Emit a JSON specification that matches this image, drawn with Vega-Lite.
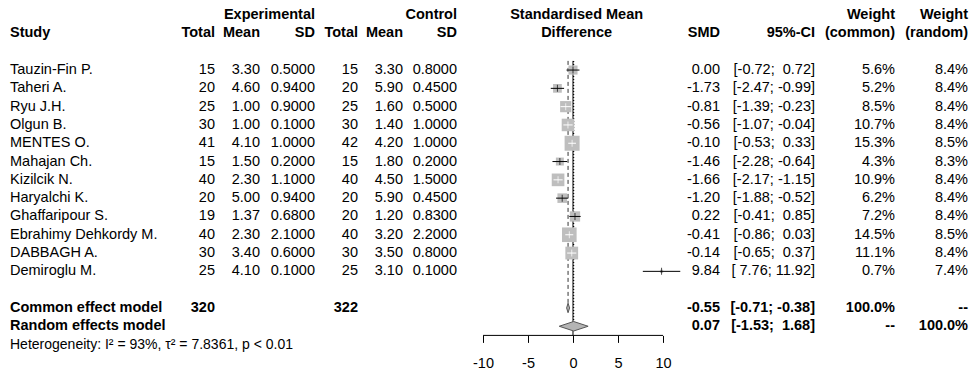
{
  "$schema": "https://vega.github.io/schema/vega-lite/v6.json",
  "padding": {"left": 10, "top": 6, "right": 5, "bottom": 0},
  "bounds": "flush",
  "spacing": 0,
  "config": {
    "view": {"stroke": null},
    "locale": {"number": {"decimal": ".", "thousands": ",", "grouping": [3], "currency": ["$", ""], "minus": "-"}},
    "text": {"font": "Liberation Sans", "fontSize": 14.5, "baseline": "middle", "color": "black"}
  },
  "datasets": {
    "studies": [
      {"study": "Tauzin-Fin P.", "row": 1, "te": 15, "me": 3.30, "sde": 0.50, "tc": 15, "mc": 3.30, "sdc": 0.80, "smd": 0.00, "lo": -0.72, "hi": 0.72, "ci": "[-0.72; \u00a00.72]", "wc": 5.6, "wr": 8.4},
      {"study": "Taheri A.", "row": 2, "te": 20, "me": 4.60, "sde": 0.94, "tc": 20, "mc": 5.90, "sdc": 0.45, "smd": -1.73, "lo": -2.47, "hi": -0.99, "ci": "[-2.47; -0.99]", "wc": 5.2, "wr": 8.4},
      {"study": "Ryu J.H.", "row": 3, "te": 25, "me": 1.00, "sde": 0.90, "tc": 25, "mc": 1.60, "sdc": 0.50, "smd": -0.81, "lo": -1.39, "hi": -0.23, "ci": "[-1.39; -0.23]", "wc": 8.5, "wr": 8.4},
      {"study": "Olgun B.", "row": 4, "te": 30, "me": 1.00, "sde": 0.10, "tc": 30, "mc": 1.40, "sdc": 1.00, "smd": -0.56, "lo": -1.07, "hi": -0.04, "ci": "[-1.07; -0.04]", "wc": 10.7, "wr": 8.4},
      {"study": "MENTES O.", "row": 5, "te": 41, "me": 4.10, "sde": 1.00, "tc": 42, "mc": 4.20, "sdc": 1.00, "smd": -0.10, "lo": -0.53, "hi": 0.33, "ci": "[-0.53; \u00a00.33]", "wc": 15.3, "wr": 8.5},
      {"study": "Mahajan Ch.", "row": 6, "te": 15, "me": 1.50, "sde": 0.20, "tc": 15, "mc": 1.80, "sdc": 0.20, "smd": -1.46, "lo": -2.28, "hi": -0.64, "ci": "[-2.28; -0.64]", "wc": 4.3, "wr": 8.3},
      {"study": "Kizilcik N.", "row": 7, "te": 40, "me": 2.30, "sde": 1.10, "tc": 40, "mc": 4.50, "sdc": 1.50, "smd": -1.66, "lo": -2.17, "hi": -1.15, "ci": "[-2.17; -1.15]", "wc": 10.9, "wr": 8.4},
      {"study": "Haryalchi K.", "row": 8, "te": 20, "me": 5.00, "sde": 0.94, "tc": 20, "mc": 5.90, "sdc": 0.45, "smd": -1.20, "lo": -1.88, "hi": -0.52, "ci": "[-1.88; -0.52]", "wc": 6.2, "wr": 8.4},
      {"study": "Ghaffaripour S.", "row": 9, "te": 19, "me": 1.37, "sde": 0.68, "tc": 20, "mc": 1.20, "sdc": 0.83, "smd": 0.22, "lo": -0.41, "hi": 0.85, "ci": "[-0.41; \u00a00.85]", "wc": 7.2, "wr": 8.4},
      {"study": "Ebrahimy Dehkordy M.", "row": 10, "te": 40, "me": 2.30, "sde": 2.10, "tc": 40, "mc": 3.20, "sdc": 2.20, "smd": -0.41, "lo": -0.86, "hi": 0.03, "ci": "[-0.86; \u00a00.03]", "wc": 14.5, "wr": 8.5},
      {"study": "DABBAGH A.", "row": 11, "te": 30, "me": 3.40, "sde": 0.60, "tc": 30, "mc": 3.50, "sdc": 0.80, "smd": -0.14, "lo": -0.65, "hi": 0.37, "ci": "[-0.65; \u00a00.37]", "wc": 11.1, "wr": 8.4},
      {"study": "Demiroglu M.", "row": 12, "te": 25, "me": 4.10, "sde": 0.10, "tc": 25, "mc": 3.10, "sdc": 0.10, "smd": 9.84, "lo": 7.76, "hi": 11.92, "ci": "[ 7.76; 11.92]", "wc": 0.7, "wr": 7.4}
    ],
    "pooled": [
      {"model": "Common effect model", "row": 14, "n_e": 320, "n_c": 322, "est": -0.55, "lo": -0.71, "hi": -0.38, "ci": "[-0.71; -0.38]", "wcl": "100.0%", "wrl": "--"},
      {"model": "Random effects model", "row": 15, "est": 0.07, "lo": -1.53, "hi": 1.68, "ci": "[-1.53; \u00a01.68]", "wcl": "--", "wrl": "100.0%"}
    ],
    "headers": [
      {"col": "study", "row": -1, "label": "Study"},
      {"col": "eTotal", "row": -1, "label": "Total"},
      {"col": "eMean", "row": -1, "label": "Mean"},
      {"col": "eSD", "row": -2, "label": "Experimental"},
      {"col": "eSD", "row": -1, "label": "SD"},
      {"col": "cTotal", "row": -1, "label": "Total"},
      {"col": "cMean", "row": -1, "label": "Mean"},
      {"col": "cSD", "row": -2, "label": "Control"},
      {"col": "cSD", "row": -1, "label": "SD"},
      {"col": "forest", "row": -2, "label": "Standardised Mean"},
      {"col": "forest", "row": -1, "label": "Difference"},
      {"col": "smd", "row": -1, "label": "SMD"},
      {"col": "ci", "row": -1, "label": "95%-CI"},
      {"col": "wc", "row": -2, "label": "Weight"},
      {"col": "wc", "row": -1, "label": "(common)"},
      {"col": "wr", "row": -2, "label": "Weight"},
      {"col": "wr", "row": -1, "label": "(random)"}
    ],
    "notes": [
      {"row": 16, "label": "Heterogeneity: I² = 93%, τ² = 7.8361, p < 0.01"}
    ]
  },
  "hconcat": [
    {
      "width": 160, "height": 347.7,
      "layer": [
        {"data": {"name": "headers"}, "transform": [{"filter": "datum.col === 'study'"}],
         "mark": {"type": "text", "align": "left", "fontWeight": "bold"},
         "encoding": {"x": {"value": 0}, "y": {"field": "row", "type": "quantitative", "scale": {"domain": [-2.5, 16.5], "reverse": true, "nice": false, "zero": false}, "axis": null}, "text": {"field": "label"}}},
        {"data": {"name": "studies"},
         "mark": {"type": "text", "align": "left"},
         "encoding": {"x": {"value": 0}, "y": {"field": "row", "type": "quantitative", "axis": null}, "text": {"field": "study"}}},
        {"data": {"name": "pooled"},
         "mark": {"type": "text", "align": "left", "fontWeight": "bold"},
         "encoding": {"x": {"value": 0}, "y": {"field": "row", "type": "quantitative", "axis": null}, "text": {"field": "model"}}},
        {"data": {"name": "notes"},
         "mark": {"type": "text", "align": "left", "fontSize": 14},
         "encoding": {"x": {"value": 0}, "y": {"field": "row", "type": "quantitative", "axis": null}, "text": {"field": "label"}}}
      ]
    },
    {
      "width": 45, "height": 347.7,
      "layer": [
        {"data": {"name": "headers"}, "transform": [{"filter": "datum.col === 'eTotal'"}],
         "mark": {"type": "text", "align": "right", "fontWeight": "bold"},
         "encoding": {"x": {"value": "width"}, "y": {"field": "row", "type": "quantitative", "scale": {"domain": [-2.5, 16.5], "reverse": true, "nice": false, "zero": false}, "axis": null}, "text": {"field": "label"}}},
        {"data": {"name": "studies"},
         "mark": {"type": "text", "align": "right"},
         "encoding": {"x": {"value": "width"}, "y": {"field": "row", "type": "quantitative", "axis": null}, "text": {"field": "te"}}},
        {"data": {"name": "pooled"}, "transform": [{"filter": "isValid(datum.n_e)"}],
         "mark": {"type": "text", "align": "right", "fontWeight": "bold"},
         "encoding": {"x": {"value": "width"}, "y": {"field": "row", "type": "quantitative", "axis": null}, "text": {"field": "n_e"}}}
      ]
    },
    {
      "width": 45, "height": 347.7,
      "layer": [
        {"data": {"name": "headers"}, "transform": [{"filter": "datum.col === 'eMean'"}],
         "mark": {"type": "text", "align": "right", "fontWeight": "bold"},
         "encoding": {"x": {"value": "width"}, "y": {"field": "row", "type": "quantitative", "scale": {"domain": [-2.5, 16.5], "reverse": true, "nice": false, "zero": false}, "axis": null}, "text": {"field": "label"}}},
        {"data": {"name": "studies"},
         "mark": {"type": "text", "align": "right"},
         "encoding": {"x": {"value": "width"}, "y": {"field": "row", "type": "quantitative", "axis": null}, "text": {"field": "me", "type": "quantitative", "format": ".2f"}}}
      ]
    },
    {
      "width": 55, "height": 347.7,
      "layer": [
        {"data": {"name": "headers"}, "transform": [{"filter": "datum.col === 'eSD'"}],
         "mark": {"type": "text", "align": "right", "fontWeight": "bold"},
         "encoding": {"x": {"value": "width"}, "y": {"field": "row", "type": "quantitative", "scale": {"domain": [-2.5, 16.5], "reverse": true, "nice": false, "zero": false}, "axis": null}, "text": {"field": "label"}}},
        {"data": {"name": "studies"},
         "mark": {"type": "text", "align": "right"},
         "encoding": {"x": {"value": "width"}, "y": {"field": "row", "type": "quantitative", "axis": null}, "text": {"field": "sde", "type": "quantitative", "format": ".4f"}}}
      ]
    },
    {
      "width": 43, "height": 347.7,
      "layer": [
        {"data": {"name": "headers"}, "transform": [{"filter": "datum.col === 'cTotal'"}],
         "mark": {"type": "text", "align": "right", "fontWeight": "bold"},
         "encoding": {"x": {"value": "width"}, "y": {"field": "row", "type": "quantitative", "scale": {"domain": [-2.5, 16.5], "reverse": true, "nice": false, "zero": false}, "axis": null}, "text": {"field": "label"}}},
        {"data": {"name": "studies"},
         "mark": {"type": "text", "align": "right"},
         "encoding": {"x": {"value": "width"}, "y": {"field": "row", "type": "quantitative", "axis": null}, "text": {"field": "tc"}}},
        {"data": {"name": "pooled"}, "transform": [{"filter": "isValid(datum.n_c)"}],
         "mark": {"type": "text", "align": "right", "fontWeight": "bold"},
         "encoding": {"x": {"value": "width"}, "y": {"field": "row", "type": "quantitative", "axis": null}, "text": {"field": "n_c"}}}
      ]
    },
    {
      "width": 45, "height": 347.7,
      "layer": [
        {"data": {"name": "headers"}, "transform": [{"filter": "datum.col === 'cMean'"}],
         "mark": {"type": "text", "align": "right", "fontWeight": "bold"},
         "encoding": {"x": {"value": "width"}, "y": {"field": "row", "type": "quantitative", "scale": {"domain": [-2.5, 16.5], "reverse": true, "nice": false, "zero": false}, "axis": null}, "text": {"field": "label"}}},
        {"data": {"name": "studies"},
         "mark": {"type": "text", "align": "right"},
         "encoding": {"x": {"value": "width"}, "y": {"field": "row", "type": "quantitative", "axis": null}, "text": {"field": "mc", "type": "quantitative", "format": ".2f"}}}
      ]
    },
    {
      "width": 54, "height": 347.7,
      "layer": [
        {"data": {"name": "headers"}, "transform": [{"filter": "datum.col === 'cSD'"}],
         "mark": {"type": "text", "align": "right", "fontWeight": "bold"},
         "encoding": {"x": {"value": "width"}, "y": {"field": "row", "type": "quantitative", "scale": {"domain": [-2.5, 16.5], "reverse": true, "nice": false, "zero": false}, "axis": null}, "text": {"field": "label"}}},
        {"data": {"name": "studies"},
         "mark": {"type": "text", "align": "right"},
         "encoding": {"x": {"value": "width"}, "y": {"field": "row", "type": "quantitative", "axis": null}, "text": {"field": "sdc", "type": "quantitative", "format": ".4f"}}}
      ]
    },
    {
      "width": 223, "height": 329.4,
      "layer": [
        {"data": {"name": "headers"}, "transform": [{"filter": "datum.col === 'forest'"}],
         "mark": {"type": "text", "align": "center", "fontWeight": "bold"},
         "encoding": {
           "x": {"datum": 0.4, "type": "quantitative",
                 "scale": {"domain": [-12.889, 11.889], "nice": false, "zero": false},
                 "axis": {"values": [-10, -5, 0, 5, 10], "format": "d", "domain": false, "grid": false, "ticks": true, "tickSize": 7, "tickColor": "black", "tickWidth": 1, "labelFont": "Liberation Sans", "labelFontSize": 14.5, "labelColor": "black", "labelPadding": 14, "labelFlush": false, "labelOverlap": false, "title": null}},
           "y": {"field": "row", "type": "quantitative", "scale": {"domain": [-2.5, 15.5], "reverse": true, "nice": false, "zero": false}, "axis": null},
           "text": {"field": "label"}}},
        {"data": {"values": [{}]},
         "mark": {"type": "rule", "color": "black", "strokeWidth": 1},
         "encoding": {"x": {"datum": 0, "type": "quantitative"}, "y": {"datum": 0.5, "type": "quantitative"}, "y2": {"datum": 15.5}}},
        {"data": {"name": "pooled"}, "transform": [{"filter": "datum.row === 14"}],
         "mark": {"type": "rule", "color": "#333333", "strokeWidth": 1, "strokeDash": [4, 3]},
         "encoding": {"x": {"field": "est", "type": "quantitative"}, "y": {"datum": 0.5, "type": "quantitative"}, "y2": {"datum": 13.75}}},
        {"data": {"name": "pooled"}, "transform": [{"filter": "datum.row === 15"}],
         "mark": {"type": "rule", "color": "black", "strokeWidth": 1.2, "strokeDash": [1, 2]},
         "encoding": {"x": {"field": "est", "type": "quantitative"}, "y": {"datum": 0.5, "type": "quantitative"}, "y2": {"datum": 14.75}}},
        {"data": {"name": "studies"},
         "mark": {"type": "point", "shape": "square", "filled": true, "color": "#bebebe", "opacity": 1},
         "encoding": {"x": {"field": "smd", "type": "quantitative"}, "y": {"field": "row", "type": "quantitative"},
                      "size": {"field": "wc", "type": "quantitative", "scale": {"type": "linear", "domain": [0, 15.3], "range": [0, 225], "zero": true}, "legend": null}}},
        {"data": {"name": "studies"},
         "mark": {"type": "rule", "strokeWidth": 1},
         "encoding": {"x": {"field": "lo", "type": "quantitative"}, "x2": {"field": "hi"}, "y": {"field": "row", "type": "quantitative"},
                      "color": {"condition": {"test": "(datum.hi - datum.lo) * 9 < 15 * sqrt(datum.wc / 15.3)", "value": "white"}, "value": "black"}}},
        {"data": {"name": "studies"},
         "mark": {"type": "tick", "orient": "vertical", "size": 7, "thickness": 1},
         "encoding": {"x": {"field": "smd", "type": "quantitative"}, "y": {"field": "row", "type": "quantitative"},
                      "color": {"condition": {"test": "(datum.hi - datum.lo) * 9 < 15 * sqrt(datum.wc / 15.3)", "value": "white"}, "value": "black"}}},
        {"data": {"name": "pooled"},
         "transform": [
           {"fold": ["lo", "est", "hi"], "as": ["k", "xv"]},
           {"calculate": "datum.row - (datum.k === 'est' ? 0.26 : 0)", "as": "ytop"},
           {"calculate": "datum.row + (datum.k === 'est' ? 0.26 : 0)", "as": "ybot"}
         ],
         "mark": {"type": "area", "orient": "vertical", "fill": "#b4b4b4", "stroke": "#555555", "strokeWidth": 1, "opacity": 1},
         "encoding": {"x": {"field": "xv", "type": "quantitative"}, "y": {"field": "ytop", "type": "quantitative"}, "y2": {"field": "ybot"}, "detail": {"field": "model"}}},
        {"data": {"values": [{}]},
         "mark": {"type": "rule", "color": "black", "strokeWidth": 1},
         "encoding": {"x": {"datum": -10, "type": "quantitative"}, "x2": {"datum": 10}, "y": {"value": "height"}}}
      ]
    },
    {
      "width": 40, "height": 347.7,
      "layer": [
        {"data": {"name": "headers"}, "transform": [{"filter": "datum.col === 'smd'"}],
         "mark": {"type": "text", "align": "right", "fontWeight": "bold"},
         "encoding": {"x": {"value": "width"}, "y": {"field": "row", "type": "quantitative", "scale": {"domain": [-2.5, 16.5], "reverse": true, "nice": false, "zero": false}, "axis": null}, "text": {"field": "label"}}},
        {"data": {"name": "studies"},
         "mark": {"type": "text", "align": "right"},
         "encoding": {"x": {"value": "width"}, "y": {"field": "row", "type": "quantitative", "axis": null}, "text": {"field": "smd", "type": "quantitative", "format": ".2f"}}},
        {"data": {"name": "pooled"},
         "mark": {"type": "text", "align": "right", "fontWeight": "bold"},
         "encoding": {"x": {"value": "width"}, "y": {"field": "row", "type": "quantitative", "axis": null}, "text": {"field": "est", "type": "quantitative", "format": ".2f"}}}
      ]
    },
    {
      "width": 95, "height": 347.7,
      "layer": [
        {"data": {"name": "headers"}, "transform": [{"filter": "datum.col === 'ci'"}],
         "mark": {"type": "text", "align": "right", "fontWeight": "bold"},
         "encoding": {"x": {"value": "width"}, "y": {"field": "row", "type": "quantitative", "scale": {"domain": [-2.5, 16.5], "reverse": true, "nice": false, "zero": false}, "axis": null}, "text": {"field": "label"}}},
        {"data": {"name": "studies"},
         "mark": {"type": "text", "align": "right"},
         "encoding": {"x": {"value": "width"}, "y": {"field": "row", "type": "quantitative", "axis": null}, "text": {"field": "ci"}}},
        {"data": {"name": "pooled"},
         "mark": {"type": "text", "align": "right", "fontWeight": "bold"},
         "encoding": {"x": {"value": "width"}, "y": {"field": "row", "type": "quantitative", "axis": null}, "text": {"field": "ci"}}}
      ]
    },
    {
      "width": 80, "height": 347.7,
      "layer": [
        {"data": {"name": "headers"}, "transform": [{"filter": "datum.col === 'wc'"}],
         "mark": {"type": "text", "align": "right", "fontWeight": "bold"},
         "encoding": {"x": {"value": "width"}, "y": {"field": "row", "type": "quantitative", "scale": {"domain": [-2.5, 16.5], "reverse": true, "nice": false, "zero": false}, "axis": null}, "text": {"field": "label"}}},
        {"data": {"name": "studies"},
         "transform": [{"calculate": "format(datum.wc, '.1f') + '%'", "as": "wcl"}],
         "mark": {"type": "text", "align": "right"},
         "encoding": {"x": {"value": "width"}, "y": {"field": "row", "type": "quantitative", "axis": null}, "text": {"field": "wcl"}}},
        {"data": {"name": "pooled"},
         "mark": {"type": "text", "align": "right", "fontWeight": "bold"},
         "encoding": {"x": {"value": "width"}, "y": {"field": "row", "type": "quantitative", "axis": null}, "text": {"field": "wcl"}}}
      ]
    },
    {
      "width": 73, "height": 347.7,
      "layer": [
        {"data": {"name": "headers"}, "transform": [{"filter": "datum.col === 'wr'"}],
         "mark": {"type": "text", "align": "right", "fontWeight": "bold"},
         "encoding": {"x": {"value": "width"}, "y": {"field": "row", "type": "quantitative", "scale": {"domain": [-2.5, 16.5], "reverse": true, "nice": false, "zero": false}, "axis": null}, "text": {"field": "label"}}},
        {"data": {"name": "studies"},
         "transform": [{"calculate": "format(datum.wr, '.1f') + '%'", "as": "wrl2"}],
         "mark": {"type": "text", "align": "right"},
         "encoding": {"x": {"value": "width"}, "y": {"field": "row", "type": "quantitative", "axis": null}, "text": {"field": "wrl2"}}},
        {"data": {"name": "pooled"},
         "mark": {"type": "text", "align": "right", "fontWeight": "bold"},
         "encoding": {"x": {"value": "width"}, "y": {"field": "row", "type": "quantitative", "axis": null}, "text": {"field": "wrl"}}}
      ]
    }
  ]
}
